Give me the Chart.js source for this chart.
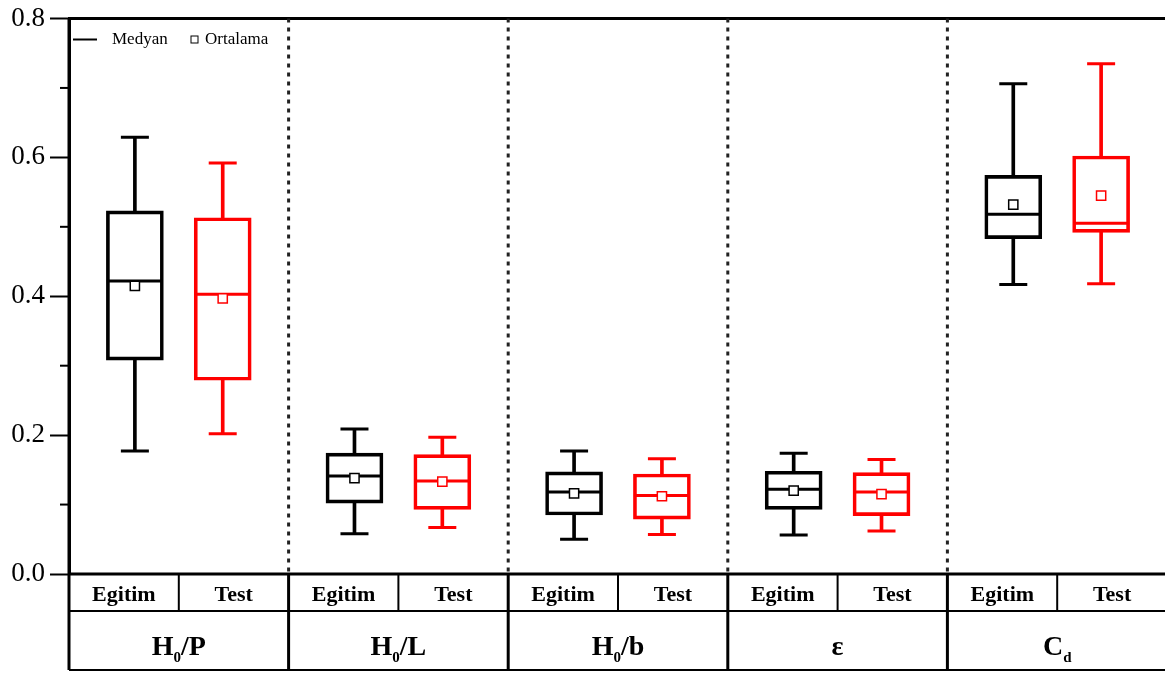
<!DOCTYPE html>
<html>
<head>
<meta charset="utf-8">
<script src="https://cdn.jsdelivr.net/npm/chart.js@4.4.0/dist/chart.umd.min.js"></script>
<style>
  html, body { margin: 0; padding: 0; overflow: hidden; background: #fff; }
  #wrap { width: 1167px; height: 673px; }
</style>
</head>
<body>
<div id="wrap"><canvas id="boxChart"></canvas></div>
<script>
// group labels: [main, subscript, rest]
const groupLabels = [['H', '0', '/P'], ['H', '0', '/L'], ['H', '0', '/b'], ['ε', '', ''], ['C', 'd', '']];
const seriesLabels = ['Egitim', 'Test'];

const egitimMin = [0.177, 0.058, 0.050, 0.056, 0.417];
const egitimQ1 = [0.308, 0.102, 0.085, 0.093, 0.483];
const egitimMedian = [0.422, 0.141, 0.118, 0.122, 0.518];
const egitimMean = [0.415, 0.138, 0.116, 0.120, 0.532];
const egitimQ3 = [0.523, 0.174, 0.147, 0.148, 0.574];
const egitimMax = [0.629, 0.209, 0.177, 0.174, 0.706];

const testMin = [0.202, 0.067, 0.057, 0.062, 0.418];
const testQ1 = [0.279, 0.093, 0.079, 0.084, 0.492];
const testMedian = [0.403, 0.134, 0.113, 0.118, 0.505];
const testMean = [0.397, 0.133, 0.112, 0.115, 0.545];
const testQ3 = [0.513, 0.172, 0.144, 0.146, 0.602];
const testMax = [0.592, 0.197, 0.166, 0.165, 0.735];

const yMinorTicks = [0.1, 0.3, 0.5, 0.7];

const SERIF = "'Liberation Serif', 'Times New Roman', serif";
Chart.defaults.font.family = SERIF;

function boxDatasets(s, off, color) {
  const at = (arr) => arr.map((v, i) => ({ x: i + off, y: v }));
  const span = (lo, hi) => lo.map((v, i) => ({ x: i + off, y: [v, hi[i]] }));
  return [
    { type: 'scatter', data: at(s.mean), pointStyle: 'rect', pointRadius: 6.5, pointHoverRadius: 6.5,
      borderWidth: 1.5, borderColor: color, backgroundColor: '#fff', order: 0 },
    { type: 'scatter', data: at(s.median), pointStyle: 'line', pointRadius: 28, pointHoverRadius: 28,
      borderWidth: 3, borderColor: color, order: 1 },
    { type: 'scatter', data: at(s.max).concat(at(s.min)), pointStyle: 'line', pointRadius: 14, pointHoverRadius: 14,
      borderWidth: 3, borderColor: color, order: 1 },
    { type: 'bar', data: span(s.q1, s.q3), barThickness: 57, borderWidth: 3, borderColor: color,
      backgroundColor: 'rgba(0,0,0,0)', borderSkipped: false, grouped: false, order: 2 },
    { type: 'bar', data: span(s.q3, s.max), barThickness: 3, backgroundColor: color, borderWidth: 0,
      grouped: false, order: 3 },
    { type: 'bar', data: span(s.min, s.q1), barThickness: 3, backgroundColor: color, borderWidth: 0,
      grouped: false, order: 3 },
  ];
}

const egitim = { min: egitimMin, q1: egitimQ1, median: egitimMedian, mean: egitimMean, q3: egitimQ3, max: egitimMax };
const test = { min: testMin, q1: testQ1, median: testMedian, mean: testMean, q3: testQ3, max: testMax };

function line(ctx, x1, y1, x2, y2) {
  ctx.beginPath();
  ctx.moveTo(x1, y1);
  ctx.lineTo(x2, y2);
  ctx.stroke();
}

// frame, dotted separators, label table and legend
const framePlugin = {
  id: 'frame',
  afterDraw(chart) {
    const { ctx, chartArea: a, scales: { x, y } } = chart;
    const r1 = a.bottom + 37;
    const r2 = a.bottom + 96;
    ctx.save();
    ctx.strokeStyle = '#000';
    ctx.fillStyle = '#000';

    ctx.lineWidth = 2;
    yMinorTicks.forEach((v) => {
      const py = y.getPixelForValue(v);
      line(ctx, a.left - 9, py, a.left, py);
    });

    ctx.lineWidth = 3;
    line(ctx, a.left, a.top, a.right, a.top);

    ctx.strokeStyle = '#222';
    ctx.setLineDash([4, 5]);
    for (let i = 1; i < groupLabels.length; i++) {
      const px = x.getPixelForValue(i);
      line(ctx, px, a.top, px, a.bottom);
    }
    ctx.setLineDash([]);
    ctx.strokeStyle = '#000';

    ctx.lineWidth = 3;
    line(ctx, a.left, a.bottom, a.right, a.bottom);
    line(ctx, a.left, a.top, a.left, r2);
    ctx.lineWidth = 2;
    line(ctx, a.left, r1, a.right, r1);
    line(ctx, a.left, r2, a.right, r2);

    groupLabels.forEach((g, i) => {
      const edge = x.getPixelForValue(i + 1);
      const mid = x.getPixelForValue(i + 0.5);
      ctx.lineWidth = 3;
      line(ctx, edge, a.bottom, edge, r2);
      ctx.lineWidth = 2;
      line(ctx, mid, a.bottom, mid, r1);

      ctx.font = 'bold 22px ' + SERIF;
      ctx.textAlign = 'center';
      ctx.textBaseline = 'middle';
      ctx.fillText(seriesLabels[0], x.getPixelForValue(i + 0.25), (a.bottom + r1) / 2 + 3);
      ctx.fillText(seriesLabels[1], x.getPixelForValue(i + 0.75), (a.bottom + r1) / 2 + 3);

      // group name with subscript
      const big = 'bold 28px ' + SERIF;
      const small = 'bold 15px ' + SERIF;
      ctx.textBaseline = 'alphabetic';
      ctx.textAlign = 'left';
      ctx.font = big;
      const w1 = ctx.measureText(g[0]).width;
      const w3 = ctx.measureText(g[2]).width;
      ctx.font = small;
      const w2 = ctx.measureText(g[1]).width;
      let cx = x.getPixelForValue(i + 0.5) - (w1 + w2 + w3) / 2;
      const base = r2 - 15;
      ctx.font = big;
      ctx.fillText(g[0], cx, base);
      cx += w1;
      ctx.font = small;
      ctx.fillText(g[1], cx, base + 7);
      cx += w2;
      ctx.font = big;
      ctx.fillText(g[2], cx, base);
    });

    // legend
    const ly = a.top + 21;
    ctx.lineWidth = 2;
    line(ctx, a.left + 4, ly, a.left + 28, ly);
    ctx.font = '17px ' + SERIF;
    ctx.textAlign = 'left';
    ctx.textBaseline = 'middle';
    ctx.fillText('Medyan', a.left + 43, ly);
    ctx.lineWidth = 1;
    ctx.strokeRect(a.left + 122, ly - 3.5, 7, 7);
    ctx.fillText('Ortalama', a.left + 136, ly);

    ctx.restore();
  }
};

new Chart(document.getElementById('boxChart'), {
  type: 'bar',
  data: {
    datasets: boxDatasets(egitim, 0.3, '#000').concat(boxDatasets(test, 0.7, '#ff0000')),
  },
  options: {
    responsive: true,
    maintainAspectRatio: false,
    animation: false,
    events: [],
    layout: { autoPadding: false, padding: { top: 15, right: 0, bottom: 99, left: 0 } },
    plugins: {
      legend: { display: false },
      tooltip: { enabled: false },
    },
    scales: {
      x: {
        type: 'linear',
        min: 0,
        max: 5,
        offset: false,
        display: false,
      },
      y: {
        min: 0,
        max: 0.8,
        ticks: {
          stepSize: 0.2,
          color: '#000',
          padding: 5,
          font: { family: SERIF, size: 27, lineHeight: 1 },
          callback: (v) => v.toFixed(1),
        },
        grid: { drawOnChartArea: false, tickLength: 19, tickWidth: 2, tickColor: '#000' },
        border: { display: true, width: 3, color: '#000' },
        afterFit: (scale) => { scale.width = 69; },
      },
    },
  },
  plugins: [framePlugin],
});
</script>
</body>
</html>
